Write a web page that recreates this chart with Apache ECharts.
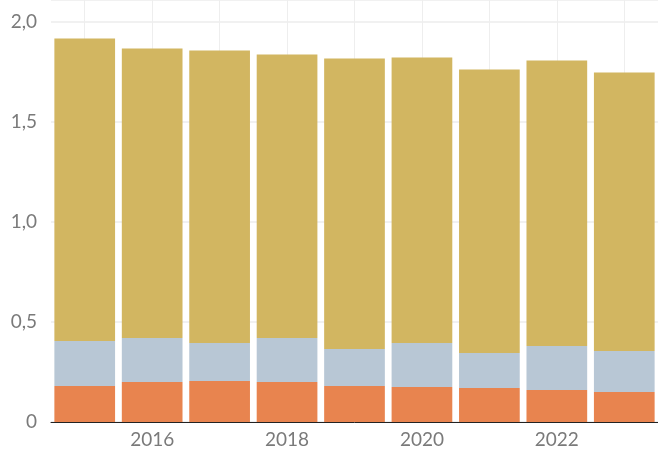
<!DOCTYPE html>
<html>
<head>
<meta charset="utf-8">
<style>
  html, body { margin: 0; padding: 0; background: #fff; }
  #chart { width: 658px; height: 450px; }
</style>
<script src="https://cdn.jsdelivr.net/npm/echarts@6/dist/echarts.min.js"></script>
</head>
<body>
<div id="chart"></div>
<script>
var years = ['2015', '2016', '2017', '2018', '2019', '2020', '2021', '2022', '2023'];
var orangeValues = [0.18, 0.20, 0.205, 0.20, 0.18, 0.175, 0.17, 0.16, 0.15];
var blueValues = [0.225, 0.22, 0.19, 0.22, 0.185, 0.22, 0.175, 0.22, 0.205];
var goldValues = [1.51, 1.445, 1.46, 1.415, 1.45, 1.425, 1.415, 1.425, 1.39];
var yTicks = [0, 0.5, 1, 1.5, 2];

var labelFont = { color: '#7a7a7a', fontSize: 19, fontFamily: 'Lato', fontWeight: 'normal' };

var myChart = echarts.init(document.getElementById('chart'));
var option = {
    animation: false,
    grid: { left: 51, right: -1, top: 0, bottom: 28, containLabel: false },
    xAxis: {
        type: 'category',
        data: years,
        axisLine: { lineStyle: { color: '#222', width: 1 } },
        axisTick: { show: false },
        axisLabel: Object.assign({
            margin: 8,
            interval: function (i) { return i % 2 === 1; }
        }, labelFont),
        splitLine: { show: true, interval: 0, alignWithLabel: true, lineStyle: { color: '#eeeeee', width: 1 } }
    },
    yAxis: {
        type: 'value',
        min: 0,
        max: 2.107,
        interval: 0.5,
        axisLine: { show: false },
        axisTick: { show: false },
        axisLabel: Object.assign({
            margin: 14,
            showMaxLabel: false,
            formatter: function (v) {
                if (yTicks.indexOf(v) < 0) return '';
                return v === 0 ? '0' : v.toFixed(1).replace('.', ',');
            }
        }, labelFont),
        splitLine: { lineStyle: { color: '#f1f1f1', width: 2 } }
    },
    series: [
        { name: 'a', type: 'bar', stack: 't', barCategoryGap: '10%', data: orangeValues, itemStyle: { color: '#e8844f' } },
        { name: 'b', type: 'bar', stack: 't', data: blueValues, itemStyle: { color: '#b8c7d5' } },
        { name: 'c', type: 'bar', stack: 't', data: goldValues, itemStyle: { color: '#d2b661' } }
    ]
};
myChart.setOption(option);
</script>
</body>
</html>
